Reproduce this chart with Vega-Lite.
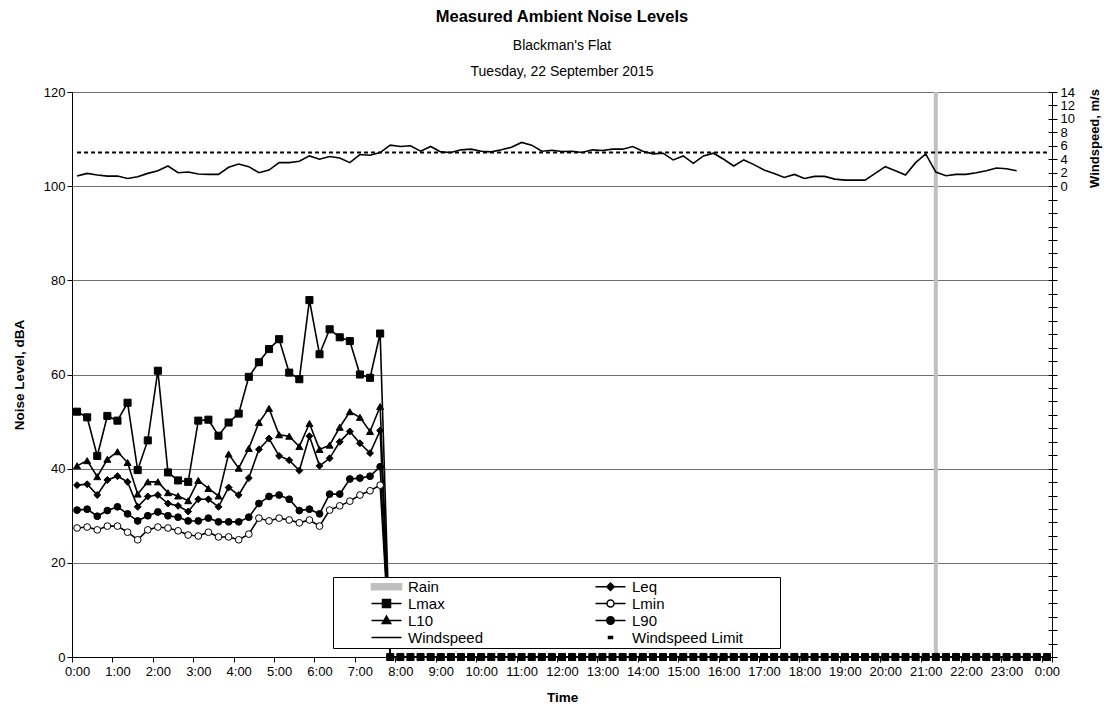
{
  "$schema": "https://vega.github.io/schema/vega-lite/v6.json",
  "width": 980,
  "height": 565,
  "autosize": {"type": "none"},
  "padding": {"left": 72, "top": 92, "right": 52, "bottom": 57},
  "config": {"font": "Liberation Sans", "view": {"stroke": null}},
  "title": {
    "text": "Measured Ambient Noise Levels",
    "subtitle": ["Blackman's Flat", "Tuesday, 22 September 2015"],
    "anchor": "middle",
    "font": "Liberation Sans",
    "fontSize": 16.5,
    "fontWeight": "bold",
    "color": "black",
    "subtitleFont": "Liberation Sans",
    "subtitleFontSize": 14,
    "subtitleColor": "black",
    "subtitleLineHeight": 26,
    "subtitlePadding": 14,
    "offset": 7
  },
  "datasets": {
    "main": [
      {"t": 0, "Lmax": 52.1, "L10": 40.6, "Leq": 36.5, "L90": 31.2, "Lmin": 27.4, "ws": 1.5, "lim": 5},
      {"t": 0.25, "Lmax": 50.9, "L10": 41.7, "Leq": 36.7, "L90": 31.4, "Lmin": 27.6, "ws": 1.9, "lim": 5},
      {"t": 0.5, "Lmax": 42.7, "L10": 38.3, "Leq": 34.4, "L90": 29.9, "Lmin": 27.0, "ws": 1.65, "lim": 5},
      {"t": 0.75, "Lmax": 51.2, "L10": 42.0, "Leq": 37.6, "L90": 31.1, "Lmin": 27.8, "ws": 1.5, "lim": 5},
      {"t": 1, "Lmax": 50.2, "L10": 43.6, "Leq": 38.4, "L90": 31.9, "Lmin": 27.8, "ws": 1.5, "lim": 5},
      {"t": 1.25, "Lmax": 54.0, "L10": 41.3, "Leq": 37.2, "L90": 30.4, "Lmin": 26.5, "ws": 1.15, "lim": 5},
      {"t": 1.5, "Lmax": 39.7, "L10": 34.6, "Leq": 31.9, "L90": 28.9, "Lmin": 24.9, "ws": 1.4, "lim": 5},
      {"t": 1.75, "Lmax": 46.0, "L10": 37.2, "Leq": 34.1, "L90": 30.0, "Lmin": 27.0, "ws": 1.9, "lim": 5},
      {"t": 2, "Lmax": 60.8, "L10": 37.2, "Leq": 34.4, "L90": 30.8, "Lmin": 27.6, "ws": 2.3, "lim": 5},
      {"t": 2.25, "Lmax": 39.2, "L10": 34.9, "Leq": 32.6, "L90": 30.0, "Lmin": 27.4, "ws": 3.0, "lim": 5},
      {"t": 2.5, "Lmax": 37.5, "L10": 34.2, "Leq": 32.1, "L90": 29.7, "Lmin": 26.8, "ws": 2.0, "lim": 5},
      {"t": 2.75, "Lmax": 37.2, "L10": 33.2, "Leq": 30.9, "L90": 28.9, "Lmin": 25.9, "ws": 2.1, "lim": 5},
      {"t": 3, "Lmax": 50.2, "L10": 37.5, "Leq": 33.5, "L90": 28.9, "Lmin": 25.7, "ws": 1.8, "lim": 5},
      {"t": 3.25, "Lmax": 50.4, "L10": 35.8, "Leq": 33.5, "L90": 29.5, "Lmin": 26.5, "ws": 1.75, "lim": 5},
      {"t": 3.5, "Lmax": 47.0, "L10": 34.2, "Leq": 31.9, "L90": 28.7, "Lmin": 25.5, "ws": 1.75, "lim": 5},
      {"t": 3.75, "Lmax": 49.8, "L10": 43.1, "Leq": 36.0, "L90": 28.7, "Lmin": 25.5, "ws": 2.8, "lim": 5},
      {"t": 4, "Lmax": 51.7, "L10": 40.1, "Leq": 34.4, "L90": 28.7, "Lmin": 24.9, "ws": 3.3, "lim": 5},
      {"t": 4.25, "Lmax": 59.5, "L10": 44.3, "Leq": 38.0, "L90": 29.7, "Lmin": 26.1, "ws": 2.9, "lim": 5},
      {"t": 4.5, "Lmax": 62.6, "L10": 49.8, "Leq": 44.1, "L90": 32.6, "Lmin": 29.5, "ws": 2.0, "lim": 5},
      {"t": 4.75, "Lmax": 65.4, "L10": 52.8, "Leq": 46.4, "L90": 34.1, "Lmin": 28.9, "ws": 2.4, "lim": 5},
      {"t": 5, "Lmax": 67.5, "L10": 47.2, "Leq": 42.7, "L90": 34.4, "Lmin": 29.5, "ws": 3.5, "lim": 5},
      {"t": 5.25, "Lmax": 60.4, "L10": 46.9, "Leq": 41.8, "L90": 33.5, "Lmin": 29.1, "ws": 3.5, "lim": 5},
      {"t": 5.5, "Lmax": 59.0, "L10": 44.7, "Leq": 39.6, "L90": 31.1, "Lmin": 28.5, "ws": 3.7, "lim": 5},
      {"t": 5.75, "Lmax": 75.8, "L10": 49.6, "Leq": 46.9, "L90": 31.4, "Lmin": 29.1, "ws": 4.5, "lim": 5},
      {"t": 6, "Lmax": 64.3, "L10": 44.1, "Leq": 40.6, "L90": 30.4, "Lmin": 27.8, "ws": 4.0, "lim": 5},
      {"t": 6.25, "Lmax": 69.6, "L10": 45.0, "Leq": 42.2, "L90": 34.6, "Lmin": 31.2, "ws": 4.4, "lim": 5},
      {"t": 6.5, "Lmax": 67.9, "L10": 48.8, "Leq": 45.7, "L90": 34.6, "Lmin": 32.1, "ws": 4.2, "lim": 5},
      {"t": 6.75, "Lmax": 67.1, "L10": 52.1, "Leq": 47.9, "L90": 37.8, "Lmin": 33.1, "ws": 3.5, "lim": 5},
      {"t": 7, "Lmax": 60.0, "L10": 50.9, "Leq": 45.4, "L90": 38.0, "Lmin": 34.4, "ws": 4.7, "lim": 5},
      {"t": 7.25, "Lmax": 59.3, "L10": 47.9, "Leq": 43.3, "L90": 38.4, "Lmin": 35.3, "ws": 4.6, "lim": 5},
      {"t": 7.5, "Lmax": 68.7, "L10": 53.2, "Leq": 48.1, "L90": 40.4, "Lmin": 36.5, "ws": 5.0, "lim": 5},
      {"t": 7.75, "Lmax": 0, "L10": 0, "Leq": 0, "L90": 0, "Lmin": 0, "ws": 6.1, "lim": 5},
      {"t": 8, "Lmax": 0, "L10": 0, "Leq": 0, "L90": 0, "Lmin": 0, "ws": 5.9, "lim": 5},
      {"t": 8.25, "Lmax": 0, "L10": 0, "Leq": 0, "L90": 0, "Lmin": 0, "ws": 6.0, "lim": 5},
      {"t": 8.5, "Lmax": 0, "L10": 0, "Leq": 0, "L90": 0, "Lmin": 0, "ws": 5.2, "lim": 5},
      {"t": 8.75, "Lmax": 0, "L10": 0, "Leq": 0, "L90": 0, "Lmin": 0, "ws": 5.9, "lim": 5},
      {"t": 9, "Lmax": 0, "L10": 0, "Leq": 0, "L90": 0, "Lmin": 0, "ws": 5.1, "lim": 5},
      {"t": 9.25, "Lmax": 0, "L10": 0, "Leq": 0, "L90": 0, "Lmin": 0, "ws": 5.0, "lim": 5},
      {"t": 9.5, "Lmax": 0, "L10": 0, "Leq": 0, "L90": 0, "Lmin": 0, "ws": 5.4, "lim": 5},
      {"t": 9.75, "Lmax": 0, "L10": 0, "Leq": 0, "L90": 0, "Lmin": 0, "ws": 5.5, "lim": 5},
      {"t": 10, "Lmax": 0, "L10": 0, "Leq": 0, "L90": 0, "Lmin": 0, "ws": 5.2, "lim": 5},
      {"t": 10.25, "Lmax": 0, "L10": 0, "Leq": 0, "L90": 0, "Lmin": 0, "ws": 5.1, "lim": 5},
      {"t": 10.5, "Lmax": 0, "L10": 0, "Leq": 0, "L90": 0, "Lmin": 0, "ws": 5.4, "lim": 5},
      {"t": 10.75, "Lmax": 0, "L10": 0, "Leq": 0, "L90": 0, "Lmin": 0, "ws": 5.8, "lim": 5},
      {"t": 11, "Lmax": 0, "L10": 0, "Leq": 0, "L90": 0, "Lmin": 0, "ws": 6.5, "lim": 5},
      {"t": 11.25, "Lmax": 0, "L10": 0, "Leq": 0, "L90": 0, "Lmin": 0, "ws": 6.1, "lim": 5},
      {"t": 11.5, "Lmax": 0, "L10": 0, "Leq": 0, "L90": 0, "Lmin": 0, "ws": 5.2, "lim": 5},
      {"t": 11.75, "Lmax": 0, "L10": 0, "Leq": 0, "L90": 0, "Lmin": 0, "ws": 5.35, "lim": 5},
      {"t": 12, "Lmax": 0, "L10": 0, "Leq": 0, "L90": 0, "Lmin": 0, "ws": 5.15, "lim": 5},
      {"t": 12.25, "Lmax": 0, "L10": 0, "Leq": 0, "L90": 0, "Lmin": 0, "ws": 5.2, "lim": 5},
      {"t": 12.5, "Lmax": 0, "L10": 0, "Leq": 0, "L90": 0, "Lmin": 0, "ws": 5.0, "lim": 5},
      {"t": 12.75, "Lmax": 0, "L10": 0, "Leq": 0, "L90": 0, "Lmin": 0, "ws": 5.4, "lim": 5},
      {"t": 13, "Lmax": 0, "L10": 0, "Leq": 0, "L90": 0, "Lmin": 0, "ws": 5.3, "lim": 5},
      {"t": 13.25, "Lmax": 0, "L10": 0, "Leq": 0, "L90": 0, "Lmin": 0, "ws": 5.5, "lim": 5},
      {"t": 13.5, "Lmax": 0, "L10": 0, "Leq": 0, "L90": 0, "Lmin": 0, "ws": 5.5, "lim": 5},
      {"t": 13.75, "Lmax": 0, "L10": 0, "Leq": 0, "L90": 0, "Lmin": 0, "ws": 5.9, "lim": 5},
      {"t": 14, "Lmax": 0, "L10": 0, "Leq": 0, "L90": 0, "Lmin": 0, "ws": 5.2, "lim": 5},
      {"t": 14.25, "Lmax": 0, "L10": 0, "Leq": 0, "L90": 0, "Lmin": 0, "ws": 4.8, "lim": 5},
      {"t": 14.5, "Lmax": 0, "L10": 0, "Leq": 0, "L90": 0, "Lmin": 0, "ws": 4.9, "lim": 5},
      {"t": 14.75, "Lmax": 0, "L10": 0, "Leq": 0, "L90": 0, "Lmin": 0, "ws": 3.9, "lim": 5},
      {"t": 15, "Lmax": 0, "L10": 0, "Leq": 0, "L90": 0, "Lmin": 0, "ws": 4.5, "lim": 5},
      {"t": 15.25, "Lmax": 0, "L10": 0, "Leq": 0, "L90": 0, "Lmin": 0, "ws": 3.4, "lim": 5},
      {"t": 15.5, "Lmax": 0, "L10": 0, "Leq": 0, "L90": 0, "Lmin": 0, "ws": 4.5, "lim": 5},
      {"t": 15.75, "Lmax": 0, "L10": 0, "Leq": 0, "L90": 0, "Lmin": 0, "ws": 4.9, "lim": 5},
      {"t": 16, "Lmax": 0, "L10": 0, "Leq": 0, "L90": 0, "Lmin": 0, "ws": 4.0, "lim": 5},
      {"t": 16.25, "Lmax": 0, "L10": 0, "Leq": 0, "L90": 0, "Lmin": 0, "ws": 3.0, "lim": 5},
      {"t": 16.5, "Lmax": 0, "L10": 0, "Leq": 0, "L90": 0, "Lmin": 0, "ws": 3.9, "lim": 5},
      {"t": 16.75, "Lmax": 0, "L10": 0, "Leq": 0, "L90": 0, "Lmin": 0, "ws": 3.2, "lim": 5},
      {"t": 17, "Lmax": 0, "L10": 0, "Leq": 0, "L90": 0, "Lmin": 0, "ws": 2.4, "lim": 5},
      {"t": 17.25, "Lmax": 0, "L10": 0, "Leq": 0, "L90": 0, "Lmin": 0, "ws": 1.9, "lim": 5},
      {"t": 17.5, "Lmax": 0, "L10": 0, "Leq": 0, "L90": 0, "Lmin": 0, "ws": 1.3, "lim": 5},
      {"t": 17.75, "Lmax": 0, "L10": 0, "Leq": 0, "L90": 0, "Lmin": 0, "ws": 1.75, "lim": 5},
      {"t": 18, "Lmax": 0, "L10": 0, "Leq": 0, "L90": 0, "Lmin": 0, "ws": 1.15, "lim": 5},
      {"t": 18.25, "Lmax": 0, "L10": 0, "Leq": 0, "L90": 0, "Lmin": 0, "ws": 1.45, "lim": 5},
      {"t": 18.5, "Lmax": 0, "L10": 0, "Leq": 0, "L90": 0, "Lmin": 0, "ws": 1.45, "lim": 5},
      {"t": 18.75, "Lmax": 0, "L10": 0, "Leq": 0, "L90": 0, "Lmin": 0, "ws": 1.05, "lim": 5},
      {"t": 19, "Lmax": 0, "L10": 0, "Leq": 0, "L90": 0, "Lmin": 0, "ws": 0.9, "lim": 5},
      {"t": 19.25, "Lmax": 0, "L10": 0, "Leq": 0, "L90": 0, "Lmin": 0, "ws": 0.9, "lim": 5},
      {"t": 19.5, "Lmax": 0, "L10": 0, "Leq": 0, "L90": 0, "Lmin": 0, "ws": 0.9, "lim": 5},
      {"t": 19.75, "Lmax": 0, "L10": 0, "Leq": 0, "L90": 0, "Lmin": 0, "ws": 1.9, "lim": 5},
      {"t": 20, "Lmax": 0, "L10": 0, "Leq": 0, "L90": 0, "Lmin": 0, "ws": 2.9, "lim": 5},
      {"t": 20.25, "Lmax": 0, "L10": 0, "Leq": 0, "L90": 0, "Lmin": 0, "ws": 2.3, "lim": 5},
      {"t": 20.5, "Lmax": 0, "L10": 0, "Leq": 0, "L90": 0, "Lmin": 0, "ws": 1.65, "lim": 5},
      {"t": 20.75, "Lmax": 0, "L10": 0, "Leq": 0, "L90": 0, "Lmin": 0, "ws": 3.5, "lim": 5},
      {"t": 21, "Lmax": 0, "L10": 0, "Leq": 0, "L90": 0, "Lmin": 0, "ws": 4.8, "lim": 5},
      {"t": 21.25, "Lmax": 0, "L10": 0, "Leq": 0, "L90": 0, "Lmin": 0, "ws": 2.1, "lim": 5},
      {"t": 21.5, "Lmax": 0, "L10": 0, "Leq": 0, "L90": 0, "Lmin": 0, "ws": 1.55, "lim": 5},
      {"t": 21.75, "Lmax": 0, "L10": 0, "Leq": 0, "L90": 0, "Lmin": 0, "ws": 1.75, "lim": 5},
      {"t": 22, "Lmax": 0, "L10": 0, "Leq": 0, "L90": 0, "Lmin": 0, "ws": 1.75, "lim": 5},
      {"t": 22.25, "Lmax": 0, "L10": 0, "Leq": 0, "L90": 0, "Lmin": 0, "ws": 2.0, "lim": 5},
      {"t": 22.5, "Lmax": 0, "L10": 0, "Leq": 0, "L90": 0, "Lmin": 0, "ws": 2.3, "lim": 5},
      {"t": 22.75, "Lmax": 0, "L10": 0, "Leq": 0, "L90": 0, "Lmin": 0, "ws": 2.7, "lim": 5},
      {"t": 23, "Lmax": 0, "L10": 0, "Leq": 0, "L90": 0, "Lmin": 0, "ws": 2.6, "lim": 5},
      {"t": 23.25, "Lmax": 0, "L10": 0, "Leq": 0, "L90": 0, "Lmin": 0, "ws": 2.3, "lim": 5},
      {"t": 23.5, "Lmax": 0, "L10": 0, "Leq": 0, "L90": 0, "Lmin": 0, "ws": null, "lim": 5},
      {"t": 23.75, "Lmax": 0, "L10": 0, "Leq": 0, "L90": 0, "Lmin": 0, "ws": null, "lim": 5},
      {"t": 24, "Lmax": 0, "L10": 0, "Leq": 0, "L90": 0, "Lmin": 0, "ws": null, "lim": 5}
    ],
    "rain": [{"t": 21.25, "value": 120}],
    "legend": [
      {"item": "Rain"}, {"item": "Lmax"}, {"item": "L10"}, {"item": "Windspeed"},
      {"item": "Leq"}, {"item": "Lmin"}, {"item": "L90"}, {"item": "Windspeed Limit"}
    ]
  },
  "resolve": {
    "scale": {"y": "independent", "shape": "independent", "fill": "independent", "stroke": "independent", "size": "independent"},
    "axis": {"x": "independent"}
  },
  "layer": [
    {
      "encoding": {
        "x": {
          "field": "t", "type": "quantitative",
          "scale": {"domain": [-0.125, 24.125], "nice": false, "zero": false},
          "axis": {
            "orient": "bottom",
            "values": [0,1,2,3,4,5,6,7,8,9,10,11,12,13,14,15,16,17,18,19,20,21,22,23,24],
            "labelExpr": "(datum.value % 24) + ':00'",
            "ticks": false, "grid": false,
            "domain": true, "domainColor": "black", "domainWidth": 1,
            "labelFontSize": 13, "labelColor": "black", "labelPadding": 8,
            "labelFlush": false, "labelOverlap": false,
            "title": "Time", "titleFontSize": 13.5, "titleFontWeight": "bold", "titleColor": "black", "titlePadding": 12
          }
        },
        "y": {
          "field": "value", "type": "quantitative",
          "scale": {"domain": [0, 120], "nice": false, "zero": false},
          "axis": {
            "values": [0, 20, 40, 60, 80, 100, 120],
            "grid": true, "gridColor": "#707070", "gridWidth": 1,
            "domain": true, "domainColor": "black",
            "ticks": true, "tickColor": "black", "tickSize": 5,
            "labelFontSize": 13, "labelColor": "black", "labelPadding": 2,
            "title": "Noise Level, dBA", "titleFontSize": 13.5, "titleFontWeight": "bold", "titleColor": "black", "titlePadding": 17
          }
        }
      },
      "layer": [
        {
          "data": {"name": "rain"},
          "mark": {"type": "rule", "color": "#c0c0c0", "strokeWidth": 4, "strokeCap": "butt"},
          "encoding": {"y2": {"datum": 0}}
        },
        {
          "data": {"name": "main"},
          "transform": [{"fold": ["Lmin", "L90", "Leq", "L10", "Lmax"], "as": ["series", "value"]}],
          "mark": {"type": "line", "stroke": "black", "strokeWidth": 1.6},
          "encoding": {"detail": {"field": "series", "type": "nominal"}}
        },
        {
          "data": {"name": "main"},
          "transform": [{"fold": ["Lmin", "L90", "Leq", "L10", "Lmax"], "as": ["series", "value"]}],
          "mark": {"type": "point", "filled": true, "opacity": 1, "stroke": "black", "strokeWidth": 1},
          "encoding": {
            "shape": {"field": "series", "type": "nominal", "legend": null,
              "scale": {"domain": ["Lmin", "L90", "Leq", "L10", "Lmax"], "range": ["circle", "circle", "diamond", "triangle-up", "square"]}},
            "fill": {"field": "series", "type": "nominal", "legend": null,
              "scale": {"domain": ["Lmin", "L90", "Leq", "L10", "Lmax"], "range": ["white", "black", "black", "black", "black"]}},
            "size": {"field": "series", "type": "nominal", "legend": null,
              "scale": {"domain": ["Lmin", "L90", "Leq", "L10", "Lmax"], "range": [45, 50, 42, 70, 64]}}
          }
        }
      ]
    },
    {
      "resolve": {"axis": {"y": "independent"}},
      "encoding": {
        "x": {
          "field": "t", "type": "quantitative",
          "scale": {"domain": [-0.125, 24.125], "nice": false, "zero": false},
          "axis": {
            "orient": "bottom",
            "values": [-0.125,0.875,1.875,2.875,3.875,4.875,5.875,6.875,7.875,8.875,9.875,10.875,11.875,12.875,13.875,14.875,15.875,16.875,17.875,18.875,19.875,20.875,21.875,22.875,23.875,24.125],
            "labels": false, "domain": false, "grid": false,
            "ticks": true, "tickSize": 5, "tickColor": "black",
            "title": null
          }
        }
      },
      "layer": [
        {
          "data": {"name": "main"},
          "transform": [{"fold": ["ws", "lim"], "as": ["wk", "w"]}, {"filter": "datum.wk == 'lim'"}],
          "mark": {"type": "line", "stroke": "black", "strokeWidth": 2, "strokeDash": [4, 3]},
          "encoding": {
            "y": {
              "field": "w", "type": "quantitative",
              "scale": {"domain": [-70, 14], "nice": false, "zero": false},
              "axis": {
                "orient": "right",
                "values": [14,12,10,8,6,4,2,0,-2,-4,-6,-8,-10,-12,-14,-16,-18,-20,-22,-24,-26,-28,-30,-32,-34,-36,-38,-40,-42,-44,-46,-48,-50,-52,-54,-56,-58,-60,-62,-64,-66,-68,-70],
                "labelExpr": "datum.value >= 0 ? datum.label : ''",
                "grid": false, "domain": true, "domainColor": "black",
                "ticks": true, "tickColor": "black", "tickSize": 5,
                "labelFontSize": 13, "labelColor": "black", "labelPadding": 3,
                "labelOverlap": false, "labelFlush": false,
                "title": "Windspeed, m/s", "titleFontSize": 13, "titleFontWeight": "bold", "titleColor": "black",
                "titleAngle": 270, "titleX": 42, "titleY": 46, "titleAlign": "center", "titleBaseline": "middle"
              }
            }
          }
        },
        {
          "data": {"name": "main"},
          "transform": [{"fold": ["ws", "lim"], "as": ["wk", "w"]}, {"filter": "datum.wk == 'ws' && isValid(datum.w)"}],
          "mark": {"type": "line", "stroke": "black", "strokeWidth": 1.6},
          "encoding": {
            "y": {
              "field": "w", "type": "quantitative",
              "scale": {"domain": [-70, 14], "nice": false, "zero": false},
              "axis": {
                "orient": "right",
                "values": [14,12,10,8,6,4,2,0,-2,-4,-6,-8,-10,-12,-14,-16,-18,-20,-22,-24,-26,-28,-30,-32,-34,-36,-38,-40,-42,-44,-46,-48,-50,-52,-54,-56,-58,-60,-62,-64,-66,-68,-70],
                "labels": false, "grid": false, "domain": false,
                "ticks": true, "tickColor": "black", "tickSize": -4,
                "title": null
              }
            }
          }
        },
        {
          "data": {"name": "legend"},
          "transform": [{"filter": "false"}],
          "mark": {"type": "point", "filled": true, "opacity": 1},
          "encoding": {
            "shape": {
              "field": "item", "type": "nominal",
              "scale": {
                "domain": ["Rain", "Lmax", "L10", "Windspeed", "Leq", "Lmin", "L90", "Windspeed Limit"],
                "range": [
                  "M-3,-0.6H3V0.6H-3Z",
                  "M-3,0H3M-0.8,-0.8H0.8V0.8H-0.8Z",
                  "M-3,0H3M0,-0.9L0.85,0.6H-0.85Z",
                  "M-3,0H3",
                  "M-3,0H3M0,-0.75L0.75,0L0,0.75L-0.75,0Z",
                  "M-3,0H-0.7M0.7,0H3M-0.7,0A0.7,0.7,0,1,1,0.7,0A0.7,0.7,0,1,1,-0.7,0Z",
                  "M-3,0H3M-0.75,0A0.75,0.75,0,1,1,0.75,0A0.75,0.75,0,1,1,-0.75,0Z",
                  "M-0.4,-0.2H0.4V0.2H-0.4ZM32.8,0"
                ]
              },
              "legend": {
                "title": null, "orient": "none", "legendX": 261, "legendY": 485,
                "columns": 2, "columnPadding": 75, "rowPadding": 1, "padding": 2,
                "fillColor": "white", "strokeColor": "black",
                "labelFont": "Liberation Sans", "labelFontSize": 15, "labelColor": "black", "labelLimit": 300,
                "symbolSize": 100, "symbolStrokeWidth": 1.5, "symbolOffset": 44, "labelOffset": 14
              }
            },
            "fill": {
              "field": "item", "type": "nominal",
              "scale": {
                "domain": ["Rain", "Lmax", "L10", "Windspeed", "Leq", "Lmin", "L90", "Windspeed Limit"],
                "range": ["#c0c0c0", "black", "black", "black", "black", "white", "black", "black"]
              },
              "legend": {
                "title": null, "orient": "none", "legendX": 261, "legendY": 485,
                "columns": 2, "columnPadding": 75, "rowPadding": 1, "padding": 2,
                "fillColor": "white", "strokeColor": "black",
                "labelFont": "Liberation Sans", "labelFontSize": 15, "labelColor": "black", "labelLimit": 300,
                "symbolSize": 100, "symbolStrokeWidth": 1.5, "symbolOffset": 44, "labelOffset": 14
              }
            },
            "stroke": {
              "field": "item", "type": "nominal",
              "scale": {
                "domain": ["Rain", "Lmax", "L10", "Windspeed", "Leq", "Lmin", "L90", "Windspeed Limit"],
                "range": ["#c0c0c0", "black", "black", "black", "black", "black", "black", "black"]
              },
              "legend": {
                "title": null, "orient": "none", "legendX": 261, "legendY": 485,
                "columns": 2, "columnPadding": 75, "rowPadding": 1, "padding": 2,
                "fillColor": "white", "strokeColor": "black",
                "labelFont": "Liberation Sans", "labelFontSize": 15, "labelColor": "black", "labelLimit": 300,
                "symbolSize": 100, "symbolStrokeWidth": 1.5, "symbolOffset": 44, "labelOffset": 14
              }
            }
          }
        }
      ]
    }
  ]
}
